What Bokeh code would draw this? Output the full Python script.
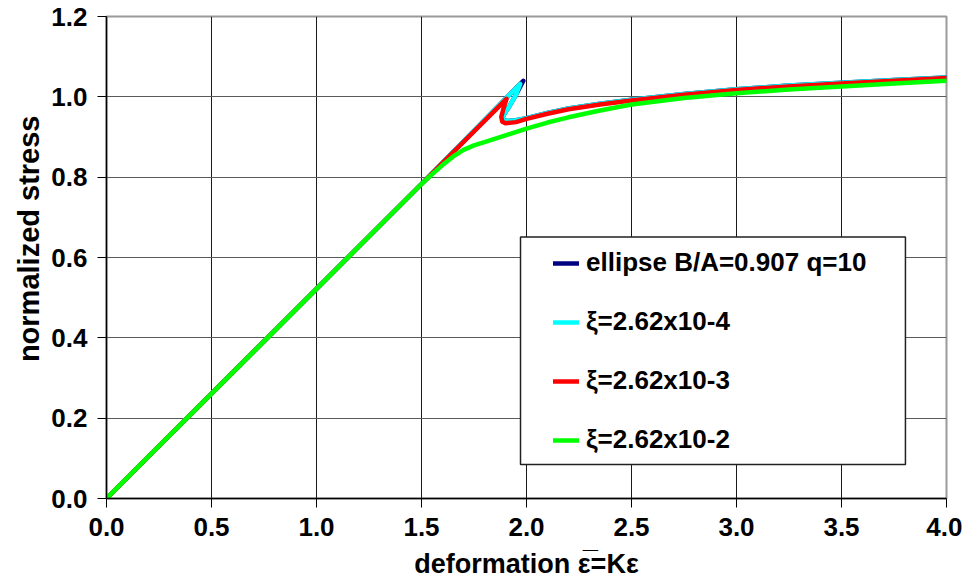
import numpy as np
from bokeh.plotting import figure
from bokeh.models import (FixedTicker, PrintfTickFormatter, Range1d, Legend, LegendItem,
                          BoxAnnotation, Title)
from bokeh.embed import file_html
from bokeh.resources import INLINE

# ---- data ----
ellipse_x = [0.0, 0.5, 1.0, 1.5, 1.985, 1.95, 1.92, 1.90, 1.885, 1.89, 1.91, 1.95, 2.0, 2.1, 2.2, 2.35, 2.5, 2.75, 3.0, 3.25, 3.5, 3.75, 4.0]
ellipse_y = [0.0, 0.261, 0.522, 0.783, 1.040, 1.005, 0.978, 0.962, 0.948, 0.942, 0.940, 0.942, 0.947, 0.960, 0.971, 0.983, 0.993, 1.007, 1.019, 1.028, 1.035, 1.042, 1.048]

xi4_x = [0.0, 0.5, 1.0, 1.5, 1.97, 1.95, 1.92, 1.90, 1.885, 1.89, 1.91, 1.95, 2.0, 2.1, 2.2, 2.35, 2.5, 2.75, 3.0, 3.25, 3.5, 3.75, 4.0]
xi4_y = [0.0, 0.261, 0.522, 0.783, 1.032, 1.005, 0.978, 0.962, 0.948, 0.942, 0.940, 0.942, 0.947, 0.960, 0.971, 0.983, 0.993, 1.007, 1.019, 1.028, 1.035, 1.042, 1.048]

xi3_x = [0.0, 0.5, 1.0, 1.5, 1.905, 1.89, 1.88, 1.885, 1.90, 1.95, 2.0, 2.1, 2.2, 2.35, 2.5, 2.75, 3.0, 3.25, 3.5, 3.75, 4.0]
xi3_y = [0.0, 0.261, 0.522, 0.783, 0.995, 0.970, 0.950, 0.938, 0.934, 0.937, 0.945, 0.958, 0.969, 0.981, 0.991, 1.005, 1.017, 1.026, 1.033, 1.040, 1.047]

xi2_x = [0.0, 0.5, 1.0, 1.5, 1.55, 1.6, 1.65, 1.7, 1.75, 1.8, 1.9, 2.0, 2.1, 2.2, 2.35, 2.5, 2.75, 3.0, 3.25, 3.5, 3.75, 4.0]
xi2_y = [0.0, 0.261, 0.522, 0.783, 0.807, 0.830, 0.851, 0.868, 0.879, 0.887, 0.904, 0.921, 0.936, 0.949, 0.966, 0.981, 0.997, 1.009, 1.018, 1.026, 1.033, 1.040]

series_labels = ["ellipse B/A=0.907 q=10", "ξ=2.62x10-4", "ξ=2.62x10-3", "ξ=2.62x10-2"]
series_colors = ["#000080", "#00FFFF", "#FF0000", "#00FF00"]

x_ticks = [0.0, 0.5, 1.0, 1.5, 2.0, 2.5, 3.0, 3.5, 4.0]
y_ticks = [0.0, 0.2, 0.4, 0.6, 0.8, 1.0, 1.2]
x_title = "deformation ε\u0305=Kε"
y_title = "normalized stress"

FONT = "Liberation Sans"

p = figure(width=962, height=586, output_backend="svg", toolbar_location=None,
           x_range=Range1d(0, 4), y_range=Range1d(0, 1.2),
           min_border_left=106, min_border_right=16, min_border_top=16, min_border_bottom=86)

p.background_fill_color = "white"
p.border_fill_color = "white"
p.outline_line_color = "#9a9a9a"
p.outline_line_width = 2

# grid
p.xgrid.ticker = FixedTicker(ticks=x_ticks)
p.ygrid.ticker = FixedTicker(ticks=y_ticks)
p.xgrid.grid_line_color = "#1a1a1a"
p.ygrid.grid_line_color = "#5a5a5a"
p.xgrid.grid_line_width = 1
p.ygrid.grid_line_width = 1

for ax, ticks in ((p.xaxis[0], x_ticks), (p.yaxis[0], y_ticks)):
    ax.ticker = FixedTicker(ticks=ticks)
    ax.formatter = PrintfTickFormatter(format="%.1f")
    ax.major_tick_in = 0
    ax.major_tick_out = 9
    ax.minor_tick_in = 0
    ax.minor_tick_out = 0
    ax.axis_line_color = "black"
    ax.axis_line_width = 1.5
    ax.major_tick_line_color = "black"
    ax.major_label_text_font = FONT
    ax.major_label_text_font_style = "bold"
    ax.major_label_text_font_size = "26px"
    ax.major_label_text_color = "black"

p.xaxis.major_label_standoff = 10
p.yaxis.major_label_standoff = 10

# curves
lines = []
for xs, ys, col in ((ellipse_x, ellipse_y, series_colors[0]),
                    (xi4_x, xi4_y, series_colors[1]),
                    (xi3_x, xi3_y, series_colors[2]),
                    (xi2_x, xi2_y, series_colors[3])):
    r = p.line(xs, ys, line_color=col, line_width=4.5, line_join="round", line_cap="round")
    lines.append(r)

# legend box
box = BoxAnnotation(left=1.9715, right=3.8045, bottom=0.0845, top=0.651,
                    fill_color="white", fill_alpha=1.0, line_color="#202020",
                    line_alpha=1.0, line_width=1.5, level="annotation")
p.add_layout(box)

legend = Legend(items=[LegendItem(label=lab, renderers=[r]) for lab, r in zip(series_labels, lines)],
                location=(447, 43), orientation="vertical",
                background_fill_alpha=0, border_line_alpha=0,
                padding=0, margin=0, spacing=28,
                glyph_width=26, glyph_height=30, label_height=30, label_standoff=7,
                label_text_font=FONT, label_text_font_style="bold", label_text_font_size="26px",
                label_text_color="black")
p.add_layout(legend)

# axis titles
p.add_layout(Title(text=x_title, align="center", text_font=FONT, text_font_style="bold",
                   text_font_size="27px", text_color="black", standoff=16), "below")
p.add_layout(Title(text=y_title, align="right", text_font=FONT, text_font_style="bold",
                   text_font_size="29px", text_color="black", standoff=8, offset=99), "left")

open("out.html", "w").write(file_html(p, INLINE))
